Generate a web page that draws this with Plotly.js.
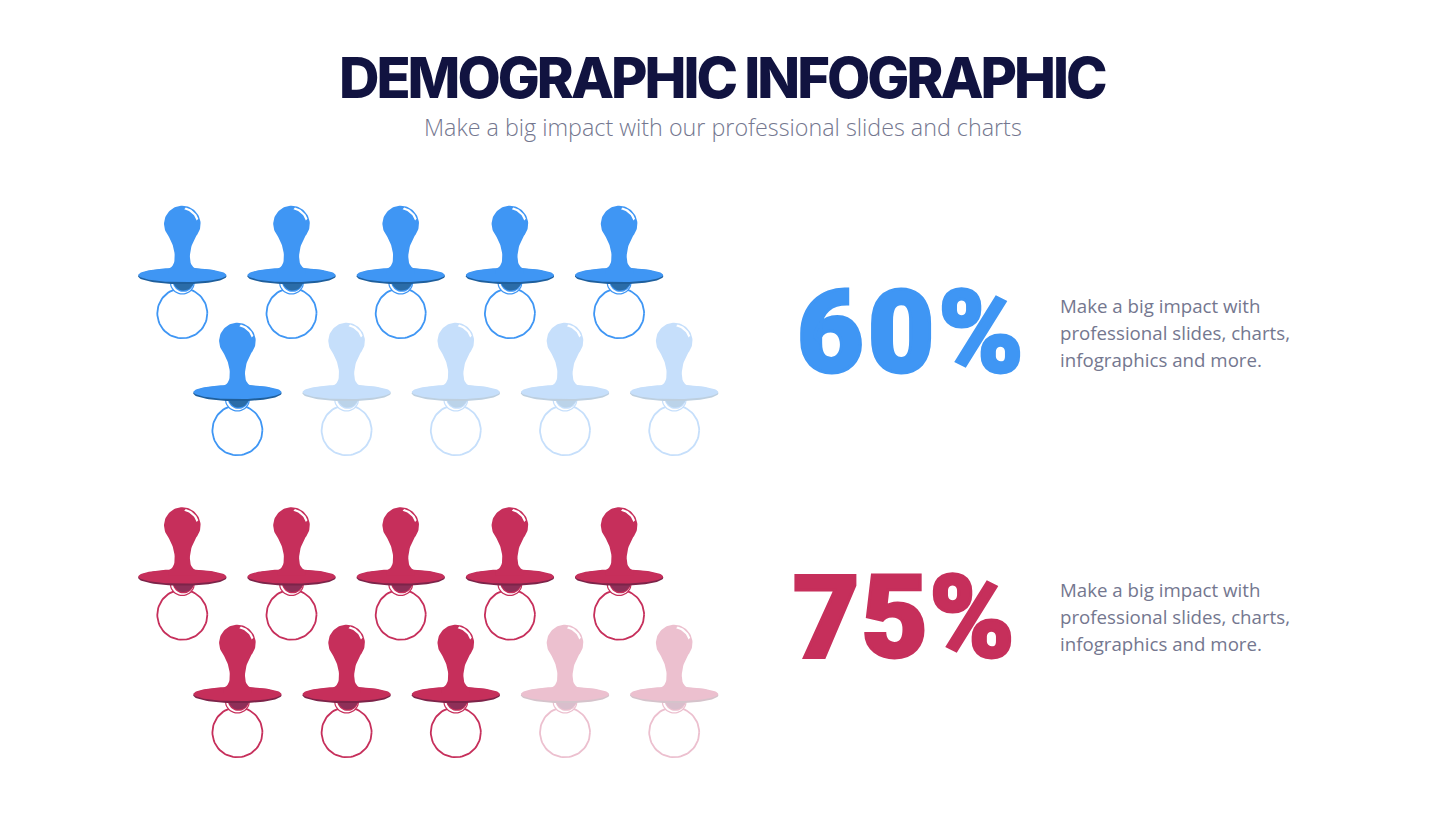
<!DOCTYPE html>
<html>
<head>
<meta charset="utf-8">
<script src="https://cdn.plot.ly/plotly-3.0.1.min.js"></script>
<style>html,body{margin:0;padding:0;background:#fff}#chart{width:1445px;height:813px}</style>
</head>
<body>
<div id="chart"></div>
<script>
var titleText = 'DEMOGRAPHIC INFOGRAPHIC';
var subtitleText = 'Make a big impact with our professional slides and charts';
var bodyLines = ['Make a big impact with', 'professional slides, charts,', 'infographics and more.'];
var groupNames = ['Blue', 'Red'];
var percentValues = [60, 75];
var filledCounts = [6, 8];
var iconsPerRow = 5;
var rowHeadY = [[224, 341], [525.5, 643]];
var rowStartX = [182.3, 237.4];
var stepX = 109.2;
var percentY = [332, 617];
var percentX = [796, 792];
var percentSpacing = [4, 1.5];
var bodyY = [[305, 332, 359], [589, 616, 643]];
var palette = [
  {on:{main:'#3F96F4',dark:'#2A6CA8',edge:'#1F5F9C'}, off:{main:'#C6DFFB',dark:'#BBD3E9',edge:'#BDCFDF'}},
  {on:{main:'#C62F5B',dark:'#8E2F58',edge:'#7C2449'}, off:{main:'#ECC0CF',dark:'#D9BECC',edge:'#D5C3CB'}}
];

/* glyph outlines, relative to the centre of the pacifier head */
function arc(cx, cy, rx, ry, a0, a1, n) {
  var p = [];
  for (var i = 0; i <= n; i++) {
    var a = (a0 + (a1 - a0) * i / n) * Math.PI / 180;
    p.push([cx + rx * Math.cos(a), cy + ry * Math.sin(a)]);
  }
  return p;
}
function bez(p0, p1, p2, p3, n) {
  var p = [];
  for (var i = 1; i <= n; i++) {
    var t = i / n, u = 1 - t;
    p.push([u*u*u*p0[0] + 3*u*u*t*p1[0] + 3*u*t*t*p2[0] + t*t*t*p3[0],
            u*u*u*p0[1] + 3*u*u*t*p1[1] + 3*u*t*t*p2[1] + t*t*t*p3[1]]);
  }
  return p;
}
function bodyGlyph() {
  var r = 18.3;
  var start = [r*Math.cos(40*Math.PI/180), r*Math.sin(40*Math.PI/180)];
  var right = bez(start, [10.6, 18], [7.6, 24], [7.6, 33], 12)
    .concat(bez([7.6, 33], [7.6, 39], [9, 42.5], [14, 45], 8));
  var left = right.slice().reverse().map(function (q) { return [-q[0], q[1]]; });
  return arc(0, 0, r, r, 140, 400, 60).concat(right).concat([[14, 50], [-14, 50]]).concat(left);
}
var glyph = {
  ring: arc(0, 89.3, 25, 25, 0, 360, 72),
  nippleOuter: arc(0, 58, 12.6, 12.6, 0, 360, 40),
  nippleGap: arc(0, 58, 11.4, 11.4, 0, 360, 40),
  nippleInner: arc(1.1, 57.2, 10.7, 10.7, 0, 360, 40),
  nippleDark: arc(1.3, 56.2, 10.4, 10.4, 0, 360, 40),
  discEdge: arc(0, 52.2, 44.2, 8, 0, 360, 80),
  disc: arc(0, 51, 44, 7.2, 0, 360, 80),
  body: bodyGlyph(),
  shine: arc(0, 0, 16.8, 16.8, -78, -18, 16).concat(arc(-1.6, 1.6, 16.8, 16.8, -18, -78, 16))
};
var partOrder = [
  {g:'ring', kind:'line', c:'main'},
  {g:'nippleOuter', c:'main'},
  {g:'nippleGap', c:'white'},
  {g:'nippleInner', c:'main'},
  {g:'nippleDark', c:'dark'},
  {g:'discEdge', c:'edge'},
  {g:'disc', c:'main'},
  {g:'body', c:'main'},
  {g:'shine', c:'white'}
];

function place(outline, centers) {
  var xs = [], ys = [];
  centers.forEach(function (c) {
    outline.forEach(function (q) { xs.push(c[0] + q[0]); ys.push(c[1] + q[1]); });
    xs.push(null); ys.push(null);
  });
  return {x: xs, y: ys};
}

var traces = [];
groupNames.forEach(function (name, g) {
  var total = iconsPerRow * rowHeadY[g].length;
  var on = [], off = [];
  for (var i = 0; i < total; i++) {
    var row = Math.floor(i / iconsPerRow), col = i % iconsPerRow;
    (i < filledCounts[g] ? on : off).push([rowStartX[row] + col * stepX, rowHeadY[g][row]]);
  }
  [['on', on], ['off', off]].forEach(function (st) {
    partOrder.forEach(function (part) {
      var pts = place(glyph[part.g], st[1]);
      var color = part.c === 'white' ? '#FFFFFF' : palette[g][st[0]][part.c];
      var t = {type:'scatter', mode:'lines', x:pts.x, y:pts.y, hoverinfo:'skip',
               showlegend:false, name:name + ' ' + st[0] + ' ' + part.g};
      if (part.kind === 'line') {
        t.line = {color:color, width:1.8};
      } else {
        t.fill = 'toself'; t.fillcolor = color; t.line = {color:color, width:0};
      }
      traces.push(t);
    });
  });
});

var annotations = [];
function note(x, y, text, size, color, weight, family, xanchor) {
  annotations.push({xref:'x', yref:'y', x:x, y:y, text:text, showarrow:false,
    xanchor:xanchor || 'left', yanchor:'middle', borderpad:0,
    font:{family:family, size:size, color:color, weight:weight}});
}
note(722.5, 78, '<span style="letter-spacing:-3px">' + titleText + '</span>', 56, '#111340', 800, 'Inter', 'center');
note(722.5, 127, subtitleText, 23.3, '#74778F', 300, 'Open Sans', 'center');
percentValues.forEach(function (v, g) {
  var c = palette[g].on.main;
  note(percentX[g], percentY[g],
    '<span style="letter-spacing:' + percentSpacing[g] + 'px;stroke:' + c + ';stroke-width:3px">' + v + '%</span>',
    115, c, 900, 'Roboto');
  bodyLines.forEach(function (line, k) {
    note(1059, bodyY[g][k], line, 18.7, '#74778F', 400, 'Open Sans');
  });
});

var layout = {
  width:1445, height:813, margin:{l:0,r:0,t:0,b:0},
  paper_bgcolor:'#FFFFFF', plot_bgcolor:'#FFFFFF', showlegend:false,
  xaxis:{range:[0,1445], visible:false, fixedrange:true},
  yaxis:{range:[813,0], visible:false, fixedrange:true},
  annotations:annotations
};
Plotly.newPlot('chart', traces, layout, {displayModeBar:false, staticPlot:true});
</script>
</body>
</html>
